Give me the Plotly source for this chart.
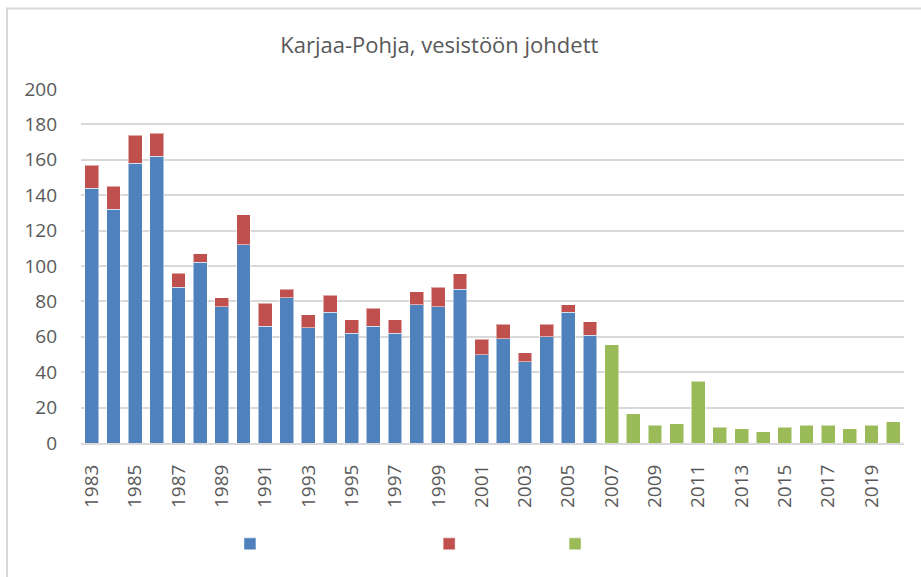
import plotly.graph_objects as go

# years on the category axis
years = [str(y) for y in range(1983, 2021)]

# blue part (1983-2006)
blue = [144, 132, 158, 162, 88, 102, 77, 112, 66, 82, 65, 74,
        62, 66, 62, 78, 77, 87, 50, 59, 46, 60, 74, 61]
# red part stacked on blue (1983-2006)
red = [13, 13, 16, 13, 8, 5, 5, 17, 13, 5, 7.5, 9.5,
       7.5, 10, 7.5, 7.5, 11, 8.5, 8.5, 8, 5, 7, 4, 7.5]
# green series (2007-2020)
green = [55.5, 16.5, 10, 11, 35, 9, 8, 6.5, 9, 10, 10, 8, 10, 12]

tick_years = [str(y) for y in range(1983, 2021, 2)]

n_old = len(blue)
blue_y = blue + [None] * (len(years) - n_old)
red_y = red + [None] * (len(years) - n_old)
green_y = [None] * n_old + green

TEXT = '#595959'
FONT = 'Open Sans'
EDGE = dict(color='rgba(255,255,255,0.5)', width=1)

fig = go.Figure()
fig.add_trace(go.Bar(x=years, y=blue_y, name=' ', marker_color='#4F81BD',
                     marker_line=EDGE, legend='legend'))
fig.add_trace(go.Bar(x=years, y=red_y, name=' ', marker_color='#C0504D',
                     marker_line=EDGE, legend='legend2'))
fig.add_trace(go.Bar(x=years, y=green_y, name=' ', marker_color='#9BBB59',
                     marker_line=EDGE, legend='legend3'))

leg = dict(orientation='h', yanchor='middle', y=-0.286, xanchor='left',
           bgcolor='rgba(0,0,0,0)', font=dict(size=14, family=FONT, color=TEXT))

fig.update_layout(
    width=921, height=577,
    showlegend=True,
    barmode='stack', bargap=0.36,
    paper_bgcolor='white', plot_bgcolor='white',
    margin=dict(l=81, r=17, t=89, b=134),
    font=dict(family=FONT, color=TEXT, size=19),
    title=dict(text='Karjaa-Pohja, vesistöön johdett', x=0.477, xanchor='center',
               xref='container', y=0.922, yanchor='middle',
               font=dict(size=22, family=FONT, color=TEXT)),
    xaxis=dict(type='category', tickmode='array', tickvals=tick_years,
               ticktext=tick_years, tickangle=-90, showgrid=False,
               showline=True, linecolor='#D9D9D9', linewidth=2, ticks='',
               ticklabelstandoff=12, tickfont=dict(size=19, color=TEXT)),
    yaxis=dict(range=[0, 200], dtick=20, showgrid=True, gridcolor='#D9D9D9',
               gridwidth=2, zeroline=False, showline=False, ticks='',
               ticklabelstandoff=23, tickfont=dict(size=19, color=TEXT)),
    legend=dict(leg, x=0.181),
    legend2=dict(leg, x=0.423),
    legend3=dict(leg, x=0.576),
    shapes=[dict(type='rect', xref='paper', yref='paper',
                 x0=-0.0899, x1=1.03, y0=-0.39, y1=1.2276,
                 line=dict(color='#D9D9D9', width=2), layer='below')],
)

# the page body has a default 8px margin; drop it so the chart sits at 0,0
fig.write_html('out.html', config={'displayModeBar': False},
               post_script="document.body.style.margin='0';")
